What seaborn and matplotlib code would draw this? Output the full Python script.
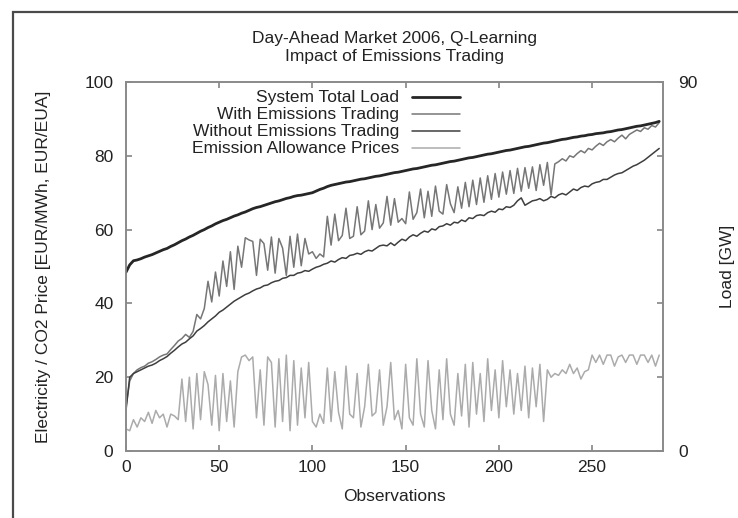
import numpy as np
import pandas as pd
import matplotlib
matplotlib.use("Agg")
import matplotlib.pyplot as plt
from matplotlib.patches import Rectangle
import seaborn as sns

#%% DATA (one value every 2 observations)
obs = np.arange(0, 288, 2)

# system total load, GW (right axis)
load_gw = [43.6, 45.4, 46.4, 46.6, 46.9,
           47.3, 47.6, 47.9, 48.3, 48.7,
           49.1, 49.4, 49.9, 50.3, 50.8,
           51.3, 51.7, 52.2, 52.6, 53.1,
           53.6, 54.0, 54.5, 54.9, 55.4,
           55.8, 56.2, 56.5, 56.9, 57.3,
           57.6, 58.0, 58.3, 58.7, 59.1,
           59.4, 59.6, 59.9, 60.2, 60.5,
           60.8, 61.0, 61.3, 61.6, 61.8,
           62.1, 62.3, 62.4, 62.6, 62.8,
           63.0, 63.4, 63.8, 64.1, 64.5,
           64.8, 65.0, 65.2, 65.4, 65.6,
           65.7, 65.9, 66.1, 66.3, 66.4,
           66.6, 66.8, 67.0, 67.1, 67.3,
           67.5, 67.7, 67.9, 68.0, 68.2,
           68.4, 68.6, 68.8, 68.9, 69.1,
           69.3, 69.5, 69.7, 69.8, 70.0,
           70.2, 70.4, 70.6, 70.7, 70.9,
           71.1, 71.3, 71.5, 71.6, 71.8,
           72.0, 72.2, 72.4, 72.5, 72.7,
           72.9, 73.1, 73.3, 73.4, 73.6,
           73.8, 74.0, 74.2, 74.3, 74.5,
           74.7, 74.9, 75.1, 75.2, 75.4,
           75.6, 75.8, 76.0, 76.1, 76.3,
           76.5, 76.6, 76.8, 76.9, 77.1,
           77.2, 77.4, 77.5, 77.6, 77.8,
           77.9, 78.1, 78.3, 78.4, 78.6,
           78.8, 79.0, 79.2, 79.3, 79.5,
           79.7, 79.9, 80.1, 80.4]

# electricity price with emissions trading, EUR/MWh
with_et = [12.0, 19.0, 21.0, 22.0, 22.6,
           23.0, 23.8, 24.2, 24.8, 25.5,
           26.0, 26.3, 27.5, 28.6, 29.8,
           30.5, 31.6, 30.8, 32.4, 37.0,
           35.8, 38.6, 46.0, 40.4, 48.5,
           42.0, 51.5, 44.6, 54.0, 43.8,
           55.5, 49.8, 57.8, 57.2, 56.8,
           47.6, 57.4, 56.2, 49.0, 58.0,
           48.2, 57.6, 55.0, 47.6, 58.2,
           49.8, 58.8, 50.2, 57.6, 53.4,
           54.0, 52.2, 53.4, 52.6, 63.6,
           55.8, 64.2, 57.0, 58.4, 65.8,
           57.6, 58.2, 66.2, 58.6, 59.6,
           67.8, 60.0, 66.8, 60.4, 61.8,
           69.0, 61.2, 68.4, 62.0, 63.0,
           61.6, 70.2, 62.8, 64.6, 71.0,
           63.2, 70.4, 63.6, 71.8, 65.0,
           64.2, 72.2, 67.0, 64.6, 71.6,
           65.8, 72.8, 66.2, 73.4, 66.8,
           74.0, 67.4, 74.6, 68.2, 75.2,
           68.8, 75.6, 69.6, 76.0, 69.8,
           76.6, 70.4, 76.8, 71.2, 77.0,
           70.6, 77.6, 72.0, 78.2, 69.4,
           77.8, 78.4, 79.2, 78.6, 80.0,
           79.6, 80.6, 81.4, 80.8, 82.0,
           81.6, 82.6, 83.4, 82.8, 83.8,
           84.4, 83.8, 84.8, 85.6, 84.6,
           85.8, 86.4, 87.0, 86.6, 87.6,
           87.2, 88.2, 87.8, 89.0]

# electricity price without emissions trading, EUR/MWh
without_et = [11.0, 20.0, 21.0, 21.5, 22.0,
              22.5, 23.0, 23.3, 23.8, 24.5,
              25.0, 25.6, 26.5, 27.3, 28.2,
              29.0, 29.5, 30.4, 31.2, 32.5,
              33.2, 34.0, 35.0, 35.8, 36.6,
              37.6, 38.2, 39.0, 39.8, 40.6,
              41.2, 41.8, 42.4, 42.8, 43.4,
              43.9, 44.2, 44.8, 45.0, 45.6,
              46.0, 46.2, 46.8, 47.0, 47.6,
              47.6, 48.2, 48.4, 48.9, 48.7,
              49.3, 49.8, 50.1, 50.6, 50.9,
              51.5, 51.2, 51.9, 52.4, 52.2,
              53.0, 53.2, 53.6, 53.3, 54.0,
              54.4, 54.2, 54.9, 55.6, 55.8,
              55.6, 56.4, 55.7, 56.6, 57.4,
              57.0, 58.0, 58.6, 58.2, 59.0,
              59.6, 59.3, 60.2, 59.9, 60.8,
              61.0, 61.6, 61.2, 62.0, 61.8,
              62.6, 62.2, 63.2, 63.0, 63.8,
              64.0, 63.8, 64.6, 65.0, 64.7,
              65.6, 65.4, 66.2, 66.0, 66.6,
              67.8, 68.6, 66.6, 67.2, 67.8,
              68.0, 68.4, 67.8, 68.2, 69.0,
              68.6, 69.4, 69.8, 69.4, 70.2,
              71.0, 70.6, 71.4, 71.8, 71.6,
              72.4, 72.8, 73.0, 73.6, 73.6,
              74.2, 74.8, 75.2, 75.4, 76.0,
              76.6, 77.2, 77.6, 78.2, 78.8,
              79.6, 80.4, 81.2, 82.0]

# emission allowance price, EUR/EUA
allowance = [6.0, 5.5, 8.5, 6.5, 9.0,
             8.0, 10.5, 7.5, 11.0, 9.0,
             10.0, 6.5, 10.0, 9.5, 8.5,
             19.5, 8.0, 20.0, 6.0, 21.0,
             8.5, 21.5, 18.0, 7.0, 20.5,
             5.5, 21.0, 8.0, 19.0, 6.5,
             21.5, 25.5, 26.0, 24.5, 25.5,
             9.0, 22.0, 7.0, 25.5, 24.0,
             6.5, 25.0, 8.0, 26.0, 5.5,
             24.5, 7.0, 22.5, 9.0, 24.0,
             8.0, 6.5, 10.0, 7.5, 22.5,
             8.0, 21.5, 10.5, 6.0, 23.0,
             10.0, 9.0, 21.0, 6.5, 12.0,
             23.5, 9.5, 10.5, 22.0, 7.0,
             12.0, 24.0, 8.5, 11.0, 6.0,
             23.5, 9.0, 7.0, 25.0, 10.0,
             6.5, 24.5, 11.0, 6.0, 22.0,
             8.5, 25.0, 10.0, 7.0, 21.0,
             9.5, 23.5, 6.5, 24.0, 10.0,
             21.0, 8.0, 25.0, 11.0, 22.0,
             9.0, 24.5, 12.0, 22.0, 10.0,
             21.0, 11.0, 23.0, 9.0, 22.5,
             12.0, 23.5, 8.0, 22.0, 20.0,
             21.0, 20.5, 22.0, 21.0, 23.5,
             21.0, 22.5, 19.5, 21.5, 22.0,
             26.0, 24.0, 26.0, 23.5, 26.0,
             26.0, 23.0, 25.5, 26.0, 24.0,
             26.0, 26.0, 23.5, 26.0, 26.0,
             24.0, 26.0, 23.0, 26.0]

df = pd.DataFrame({"obs": obs, "load": load_gw, "with_et": with_et,
                   "without_et": without_et, "allowance": allowance})

#%% STYLE
sns.set_theme(style="white")
plt.rcParams['font.family'] = ['Liberation Sans', 'DejaVu Sans']
FS = 12.5
spine_col = '#8a8a8a'
txt_col = '#222222'

#%% PLOT
fig = plt.figure(figsize=(7.38, 5.18), dpi=100)
ax = fig.add_axes([0.1707, 0.1293, 0.7276, 0.7124])
ax2 = ax.twinx()

sns.lineplot(data=df, x="obs", y="with_et", ax=ax, color='#767676', lw=1.1, legend=False)
sns.lineplot(data=df, x="obs", y="without_et", ax=ax, color='#3e3e3e', lw=1.1, legend=False)
sns.lineplot(data=df, x="obs", y="allowance", ax=ax, color='#ababab', lw=1.1, legend=False)
sns.lineplot(data=df, x="obs", y="load", ax=ax2, color='#262626', lw=2.0, legend=False)

ax.set_xlim(0, 288)
ax.set_ylim(0, 100)
ax2.set_ylim(0, 90)
ax.set_xticks([0, 50, 100, 150, 200, 250])
ax.set_yticks([0, 20, 40, 60, 80, 100])
ax2.set_yticks([0, 18, 36, 54, 72, 90])
ax2.set_yticklabels(['0', '', '', '', '', '90'])

ax.tick_params(axis='x', direction='in', top=True, bottom=True, length=4,
               color=spine_col, labelsize=FS, pad=6.5, labelcolor=txt_col)
ax.tick_params(axis='y', direction='in', left=True, right=False, length=4,
               color=spine_col, labelsize=FS, pad=9, labelcolor=txt_col)
ax2.tick_params(axis='y', direction='in', right=True, length=4,
                color=spine_col, labelsize=FS, pad=11, labelcolor=txt_col)

for a in (ax, ax2):
    for s in a.spines.values():
        s.set_color(spine_col)
        s.set_linewidth(1.2)

ax.set_xlabel("Observations", fontsize=FS, color=txt_col)
ax.set_ylabel("Electricity / CO2 Price [EUR/MWh, EUR/EUA]", fontsize=FS, color=txt_col)
ax2.set_ylabel("Load [GW]", fontsize=FS, color=txt_col)
ax.xaxis.set_label_coords(0.5, -0.103)
ax.yaxis.set_label_coords(-0.14, 0.5)
ax2.yaxis.set_label_coords(1.106, 0.5)

ax.set_title("Day-Ahead Market 2006, Q-Learning\nImpact of Emissions Trading",
             fontsize=FS, color=txt_col, pad=15, linespacing=1.3)

# gnuplot style key: label right aligned, line sample to its right
key_labels = ["System Total Load", "With Emissions Trading",
              "Without Emissions Trading", "Emission Allowance Prices"]
key_lines = [ax2.lines[0], ax.lines[0], ax.lines[1], ax.lines[2]]
key_y = [0.959, 0.913, 0.867, 0.821]
for lab, ln, yy in zip(key_labels, key_lines, key_y):
    ax2.text(0.509, yy, lab, transform=ax2.transAxes, ha='right', va='center',
             fontsize=FS, color=txt_col)
    ax2.plot([0.533, 0.622], [yy, yy], transform=ax2.transAxes,
             color=ln.get_color(), lw=ln.get_linewidth())

# scanned page frame
fig.patches.append(Rectangle((13 / 738, -0.05), 1.0, 1.05 - 12 / 518, transform=fig.transFigure,
                             fill=False, edgecolor='#4a4a4a', lw=1.6))

fig.savefig("out.png", dpi=100)
